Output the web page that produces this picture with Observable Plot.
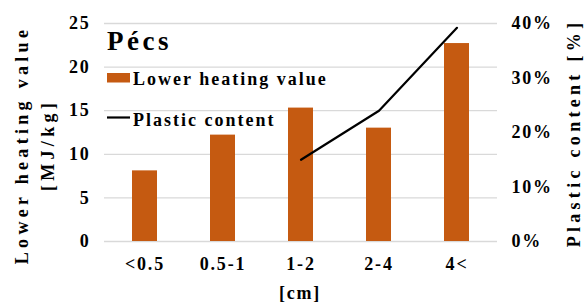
<!DOCTYPE html>
<html>
<head>
<meta charset="utf-8">
<script src="https://cdn.jsdelivr.net/npm/d3@7"></script>
<script src="https://cdn.jsdelivr.net/npm/@observablehq/plot@0.6"></script>
<style>
  html, body { margin: 0; padding: 0; background: #fff; }
  svg { display: block; }
  svg text { font-family: 'Liberation Serif', 'Times New Roman', serif; font-weight: 700; }
</style>
</head>
<body>
<div id="chart"></div>
<script>
const categories = ["<0.5", "0.5-1", "1-2", "2-4", "4<"];
const heatingValues = [8.1, 12.2, 15.3, 13.0, 22.7];
const plasticCategories = ["1-2", "2-4", "4<"];
const plasticContent = [15.0, 24.0, 39.2]; // percent
const leftTicks = [0, 5, 10, 15, 20, 25];
const rightTicks = [0, 10, 20, 30, 40];
const leftMax = 25, rightMax = 40;

const barData = categories.map((c, i) => ({cat: c, value: heatingValues[i]}));
const lineData = plasticCategories.map((c, i) => ({cat: c, pct: plasticContent[i]}));
const toLeft = p => p * leftMax / rightMax;

const font = "'Liberation Serif', 'Times New Roman', serif";
const orange = "#c55a11";

const chart = Plot.plot({
  width: 585,
  height: 302,
  marginLeft: 104,
  marginRight: 88,
  marginTop: 23,
  marginBottom: 61,
  style: {fontFamily: font, fontWeight: "bold", fontSize: "18px", letterSpacing: "1.8px", color: "#000", background: "#fff"},
  x: {domain: categories, paddingInner: 0.68, paddingOuter: 0.34},
  y: {domain: [0, leftMax]},
  marks: [
    Plot.gridY(leftTicks, {stroke: "#d9d9d9", strokeOpacity: 1, strokeWidth: 1.3}),
    Plot.barY(barData, {x: "cat", y: "value", fill: orange}),
    Plot.line(lineData, {x: "cat", y: d => toLeft(d.pct), stroke: "#000", strokeWidth: 2.2}),
    Plot.axisY(leftTicks, {anchor: "left", tickSize: 0, tickPadding: 14, label: null, fontSize: 18, fontWeight: "bold"}),
    Plot.axisY(rightTicks.map(toLeft), {anchor: "right", tickSize: 0, tickPadding: 14, label: null, fontSize: 18, fontWeight: "bold",
      tickFormat: d => Math.round(d * rightMax / leftMax) + "%"}),
    Plot.axisX({tickSize: 0, tickPadding: 16, label: null, fontSize: 18, fontWeight: "bold"})
  ]
});

document.getElementById("chart").appendChild(chart);

const svg = d3.select(chart);
const g = svg.append("g").attr("font-family", font).attr("font-weight", "bold").attr("fill", "#000").attr("text-anchor", "start");

// Left axis title
g.append("text").attr("transform", "translate(28,145) rotate(-90)")
  .attr("text-anchor", "middle").attr("font-size", 18).attr("letter-spacing", "4.3px")
  .text("Lower heating value");
g.append("text").attr("transform", "translate(54,145) rotate(-90)")
  .attr("text-anchor", "middle").attr("font-size", 18).attr("letter-spacing", "4.3px")
  .text("[MJ/kg]");
// Right axis title
g.append("text").attr("transform", "translate(580,133) rotate(-90)")
  .attr("text-anchor", "middle").attr("font-size", 18).attr("letter-spacing", "4.3px")
  .text("Plastic content [%]");
// X axis title
g.append("text").attr("x", 300).attr("y", 299)
  .attr("text-anchor", "middle").attr("font-size", 18).attr("letter-spacing", "1.7px")
  .text("[cm]");

// In-plot title and legend
g.append("text").attr("x", 107).attr("y", 50).attr("text-anchor", "start").attr("font-size", 27).attr("letter-spacing", "3.5px").text("Pécs");
g.append("rect").attr("x", 107).attr("y", 73).attr("width", 23).attr("height", 9.5).attr("fill", orange);
g.append("text").attr("x", 133).attr("y", 85).attr("text-anchor", "start").attr("font-size", 18).attr("letter-spacing", "2px").text("Lower heating value");
g.append("line").attr("x1", 107).attr("x2", 130).attr("y1", 117.5).attr("y2", 117.5).attr("stroke", "#000").attr("stroke-width", 2.2);
g.append("text").attr("x", 133).attr("y", 126).attr("text-anchor", "start").attr("font-size", 18).attr("letter-spacing", "2px").text("Plastic content");
</script>
</body>
</html>
